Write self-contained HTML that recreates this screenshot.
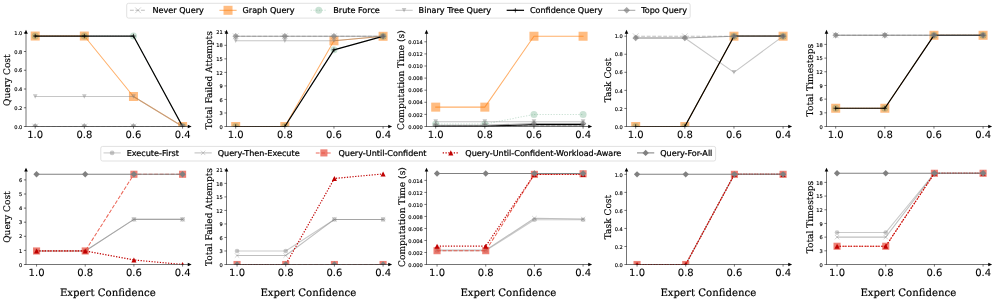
<!DOCTYPE html>
<html><head><meta charset="utf-8"><title>Figure</title>
<style>html,body{margin:0;padding:0;background:#fff}svg{display:block}text{text-rendering:geometricPrecision;stroke:#000;stroke-width:0.22px}text.yt{stroke-width:0.13px}text.sf{stroke-width:0.15px}text.xt{stroke-width:0.08px}text.xl{stroke-width:0.17px}</style></head>
<body>
<svg width="996" height="302" viewBox="0 0 996 302">
<rect width="996" height="302" fill="#fff"/>
<clipPath id="c1"><rect x="26.00" y="28.80" width="166.70" height="97.70"/></clipPath>
<g clip-path="url(#c1)">
<polyline points="35.20,126.50 84.33,126.50 133.46,126.50 182.59,126.50" fill="none" stroke="#808080" stroke-opacity="0.5" stroke-width="1.04" stroke-linejoin="round" stroke-dasharray="3.85 1.66"/>
<path d="M32.35,123.65 L38.05,129.35 M32.35,129.35 L38.05,123.65" stroke="#808080" stroke-opacity="0.5" stroke-width="0.7" fill="none"/>
<path d="M81.48,123.65 L87.18,129.35 M81.48,129.35 L87.18,123.65" stroke="#808080" stroke-opacity="0.5" stroke-width="0.7" fill="none"/>
<path d="M130.61,123.65 L136.31,129.35 M130.61,129.35 L136.31,123.65" stroke="#808080" stroke-opacity="0.5" stroke-width="0.7" fill="none"/>
<path d="M179.74,123.65 L185.44,129.35 M179.74,129.35 L185.44,123.65" stroke="#808080" stroke-opacity="0.5" stroke-width="0.7" fill="none"/>
<polyline points="35.20,36.03 84.33,36.03 133.46,96.50 182.59,126.50" fill="none" stroke="#ff7f0e" stroke-opacity="0.62" stroke-width="1.04" stroke-linejoin="round" stroke-linecap="square"/>
<rect x="30.70" y="31.53" width="9.00" height="9.00" fill="#ff7f0e" fill-opacity="0.52"/>
<rect x="79.83" y="31.53" width="9.00" height="9.00" fill="#ff7f0e" fill-opacity="0.52"/>
<rect x="128.96" y="92.00" width="9.00" height="9.00" fill="#ff7f0e" fill-opacity="0.52"/>
<rect x="178.09" y="122.00" width="9.00" height="9.00" fill="#ff7f0e" fill-opacity="0.52"/>
<polyline points="35.20,36.03 84.33,36.03 133.46,36.03 182.59,126.50" fill="none" stroke="#2e8b57" stroke-opacity="0.25" stroke-width="1.04" stroke-linejoin="round" stroke-dasharray="1.25 1.51"/>
<circle cx="35.20" cy="36.03" r="3.50" fill="#2e8b57" fill-opacity="0.25"/>
<circle cx="84.33" cy="36.03" r="3.50" fill="#2e8b57" fill-opacity="0.25"/>
<circle cx="133.46" cy="36.03" r="3.50" fill="#2e8b57" fill-opacity="0.25"/>
<circle cx="182.59" cy="126.50" r="3.50" fill="#2e8b57" fill-opacity="0.25"/>
<polyline points="35.20,96.50 84.33,96.50 133.46,96.50 182.59,126.50" fill="none" stroke="#808080" stroke-opacity="0.45" stroke-width="1.04" stroke-linejoin="round" stroke-linecap="square"/>
<path d="M32.90,94.20 L37.50,94.20 L35.20,98.80 Z" fill="#808080" fill-opacity="0.45"/>
<path d="M82.03,94.20 L86.63,94.20 L84.33,98.80 Z" fill="#808080" fill-opacity="0.45"/>
<path d="M131.16,94.20 L135.76,94.20 L133.46,98.80 Z" fill="#808080" fill-opacity="0.45"/>
<path d="M180.29,124.20 L184.89,124.20 L182.59,128.80 Z" fill="#808080" fill-opacity="0.45"/>
<polyline points="35.20,36.03 84.33,36.03 133.46,36.03 182.59,126.50" fill="none" stroke="#000000" stroke-opacity="1.0" stroke-width="1.22" stroke-linejoin="round" stroke-linecap="square"/>
<path d="M33.00,36.03 L37.40,36.03 M35.20,33.83 L35.20,38.23" stroke="#000000" stroke-opacity="1.0" stroke-width="0.7" fill="none"/>
<path d="M82.13,36.03 L86.53,36.03 M84.33,33.83 L84.33,38.23" stroke="#000000" stroke-opacity="1.0" stroke-width="0.7" fill="none"/>
<path d="M131.26,36.03 L135.66,36.03 M133.46,33.83 L133.46,38.23" stroke="#000000" stroke-opacity="1.0" stroke-width="0.7" fill="none"/>
<path d="M180.39,126.50 L184.79,126.50 M182.59,124.30 L182.59,128.70" stroke="#000000" stroke-opacity="1.0" stroke-width="0.7" fill="none"/>
<polyline points="35.20,126.50 84.33,126.50 133.46,126.50 182.59,126.50" fill="none" stroke="#808080" stroke-opacity="0.7" stroke-width="1.04" stroke-linejoin="round" stroke-linecap="square"/>
<path d="M35.20,123.25 L38.45,126.50 L35.20,129.75 L31.95,126.50 Z" fill="#808080" fill-opacity="0.7"/>
<path d="M84.33,123.25 L87.58,126.50 L84.33,129.75 L81.08,126.50 Z" fill="#808080" fill-opacity="0.7"/>
<path d="M133.46,123.25 L136.71,126.50 L133.46,129.75 L130.21,126.50 Z" fill="#808080" fill-opacity="0.7"/>
<path d="M182.59,123.25 L185.84,126.50 L182.59,129.75 L179.34,126.50 Z" fill="#808080" fill-opacity="0.7"/>
</g>
<path d="M26.00,31.80 L26.00,126.50 M25.73,126.50 L189.70,126.50" stroke="#000" stroke-width="0.55" fill="none"/>
<path d="M191.65,126.50 L187.75,124.70 L187.75,128.30 Z" fill="#000"/>
<path d="M26.00,29.85 L24.20,33.75 L27.80,33.75 Z" fill="#000"/>
<path d="M35.20,126.50 L35.20,128.60" stroke="#000" stroke-width="0.55"/>
<text class="xt" x="35.20" y="138.10" font-family="'DejaVu Sans','Liberation Sans',sans-serif" font-size="10" text-anchor="middle">1.0</text>
<path d="M84.33,126.50 L84.33,128.60" stroke="#000" stroke-width="0.55"/>
<text class="xt" x="84.33" y="138.10" font-family="'DejaVu Sans','Liberation Sans',sans-serif" font-size="10" text-anchor="middle">0.8</text>
<path d="M133.46,126.50 L133.46,128.60" stroke="#000" stroke-width="0.55"/>
<text class="xt" x="133.46" y="138.10" font-family="'DejaVu Sans','Liberation Sans',sans-serif" font-size="10" text-anchor="middle">0.6</text>
<path d="M182.59,126.50 L182.59,128.60" stroke="#000" stroke-width="0.55"/>
<text class="xt" x="182.59" y="138.10" font-family="'DejaVu Sans','Liberation Sans',sans-serif" font-size="10" text-anchor="middle">0.4</text>
<path d="M26.00,126.50 L23.90,126.50" stroke="#000" stroke-width="0.55"/>
<text class="yt" x="22.30" y="128.65" font-family="'DejaVu Sans','Liberation Sans',sans-serif" font-size="5.1" text-anchor="end">0.0</text>
<path d="M26.00,107.75 L23.90,107.75" stroke="#000" stroke-width="0.55"/>
<text class="yt" x="22.30" y="109.90" font-family="'DejaVu Sans','Liberation Sans',sans-serif" font-size="5.1" text-anchor="end">0.2</text>
<path d="M26.00,89.00 L23.90,89.00" stroke="#000" stroke-width="0.55"/>
<text class="yt" x="22.30" y="91.15" font-family="'DejaVu Sans','Liberation Sans',sans-serif" font-size="5.1" text-anchor="end">0.4</text>
<path d="M26.00,70.25 L23.90,70.25" stroke="#000" stroke-width="0.55"/>
<text class="yt" x="22.30" y="72.40" font-family="'DejaVu Sans','Liberation Sans',sans-serif" font-size="5.1" text-anchor="end">0.6</text>
<path d="M26.00,51.50 L23.90,51.50" stroke="#000" stroke-width="0.55"/>
<text class="yt" x="22.30" y="53.65" font-family="'DejaVu Sans','Liberation Sans',sans-serif" font-size="5.1" text-anchor="end">0.8</text>
<path d="M26.00,32.75 L23.90,32.75" stroke="#000" stroke-width="0.55"/>
<text class="yt" x="22.30" y="34.90" font-family="'DejaVu Sans','Liberation Sans',sans-serif" font-size="5.1" text-anchor="end">1.0</text>
<text transform="translate(10.10,80.15) rotate(-90)" class="sf" font-family="'DejaVu Serif','Liberation Serif',serif" font-size="9.05" text-anchor="middle">Query Cost</text>
<clipPath id="c2"><rect x="226.50" y="28.80" width="166.70" height="97.70"/></clipPath>
<g clip-path="url(#c2)">
<polyline points="235.70,36.30 284.83,36.30 333.96,36.30 383.09,36.30" fill="none" stroke="#808080" stroke-opacity="0.5" stroke-width="1.04" stroke-linejoin="round" stroke-dasharray="3.85 1.66"/>
<path d="M232.85,33.45 L238.55,39.15 M232.85,39.15 L238.55,33.45" stroke="#808080" stroke-opacity="0.5" stroke-width="0.7" fill="none"/>
<path d="M281.98,33.45 L287.68,39.15 M281.98,39.15 L287.68,33.45" stroke="#808080" stroke-opacity="0.5" stroke-width="0.7" fill="none"/>
<path d="M331.11,33.45 L336.81,39.15 M331.11,39.15 L336.81,33.45" stroke="#808080" stroke-opacity="0.5" stroke-width="0.7" fill="none"/>
<path d="M380.24,33.45 L385.94,39.15 M380.24,39.15 L385.94,33.45" stroke="#808080" stroke-opacity="0.5" stroke-width="0.7" fill="none"/>
<polyline points="235.70,126.50 284.83,126.50 333.96,40.81 383.09,36.30" fill="none" stroke="#ff7f0e" stroke-opacity="0.62" stroke-width="1.04" stroke-linejoin="round" stroke-linecap="square"/>
<rect x="231.20" y="122.00" width="9.00" height="9.00" fill="#ff7f0e" fill-opacity="0.52"/>
<rect x="280.33" y="122.00" width="9.00" height="9.00" fill="#ff7f0e" fill-opacity="0.52"/>
<rect x="329.46" y="36.31" width="9.00" height="9.00" fill="#ff7f0e" fill-opacity="0.52"/>
<rect x="378.59" y="31.80" width="9.00" height="9.00" fill="#ff7f0e" fill-opacity="0.52"/>
<polyline points="235.70,126.50 284.83,126.50 333.96,49.83 383.09,36.30" fill="none" stroke="#2e8b57" stroke-opacity="0.25" stroke-width="1.04" stroke-linejoin="round" stroke-dasharray="1.25 1.51"/>
<circle cx="235.70" cy="126.50" r="3.50" fill="#2e8b57" fill-opacity="0.25"/>
<circle cx="284.83" cy="126.50" r="3.50" fill="#2e8b57" fill-opacity="0.25"/>
<circle cx="333.96" cy="49.83" r="3.50" fill="#2e8b57" fill-opacity="0.25"/>
<circle cx="383.09" cy="36.30" r="3.50" fill="#2e8b57" fill-opacity="0.25"/>
<polyline points="235.70,40.81 284.83,40.81 333.96,40.81 383.09,36.30" fill="none" stroke="#808080" stroke-opacity="0.45" stroke-width="1.04" stroke-linejoin="round" stroke-linecap="square"/>
<path d="M233.40,38.51 L238.00,38.51 L235.70,43.11 Z" fill="#808080" fill-opacity="0.45"/>
<path d="M282.53,38.51 L287.13,38.51 L284.83,43.11 Z" fill="#808080" fill-opacity="0.45"/>
<path d="M331.66,38.51 L336.26,38.51 L333.96,43.11 Z" fill="#808080" fill-opacity="0.45"/>
<path d="M380.79,34.00 L385.39,34.00 L383.09,38.60 Z" fill="#808080" fill-opacity="0.45"/>
<polyline points="235.70,126.50 284.83,126.50 333.96,49.83 383.09,36.30" fill="none" stroke="#000000" stroke-opacity="1.0" stroke-width="1.22" stroke-linejoin="round" stroke-linecap="square"/>
<path d="M233.50,126.50 L237.90,126.50 M235.70,124.30 L235.70,128.70" stroke="#000000" stroke-opacity="1.0" stroke-width="0.7" fill="none"/>
<path d="M282.63,126.50 L287.03,126.50 M284.83,124.30 L284.83,128.70" stroke="#000000" stroke-opacity="1.0" stroke-width="0.7" fill="none"/>
<path d="M331.76,49.83 L336.16,49.83 M333.96,47.63 L333.96,52.03" stroke="#000000" stroke-opacity="1.0" stroke-width="0.7" fill="none"/>
<path d="M380.89,36.30 L385.29,36.30 M383.09,34.10 L383.09,38.50" stroke="#000000" stroke-opacity="1.0" stroke-width="0.7" fill="none"/>
<polyline points="235.70,36.30 284.83,36.30 333.96,36.30 383.09,36.30" fill="none" stroke="#808080" stroke-opacity="0.7" stroke-width="1.04" stroke-linejoin="round" stroke-linecap="square"/>
<path d="M235.70,33.05 L238.95,36.30 L235.70,39.55 L232.45,36.30 Z" fill="#808080" fill-opacity="0.7"/>
<path d="M284.83,33.05 L288.08,36.30 L284.83,39.55 L281.58,36.30 Z" fill="#808080" fill-opacity="0.7"/>
<path d="M333.96,33.05 L337.21,36.30 L333.96,39.55 L330.71,36.30 Z" fill="#808080" fill-opacity="0.7"/>
<path d="M383.09,33.05 L386.34,36.30 L383.09,39.55 L379.84,36.30 Z" fill="#808080" fill-opacity="0.7"/>
</g>
<path d="M226.50,31.80 L226.50,126.50 M226.22,126.50 L390.20,126.50" stroke="#000" stroke-width="0.55" fill="none"/>
<path d="M392.15,126.50 L388.25,124.70 L388.25,128.30 Z" fill="#000"/>
<path d="M226.50,29.85 L224.70,33.75 L228.30,33.75 Z" fill="#000"/>
<path d="M235.70,126.50 L235.70,128.60" stroke="#000" stroke-width="0.55"/>
<text class="xt" x="235.70" y="138.10" font-family="'DejaVu Sans','Liberation Sans',sans-serif" font-size="10" text-anchor="middle">1.0</text>
<path d="M284.83,126.50 L284.83,128.60" stroke="#000" stroke-width="0.55"/>
<text class="xt" x="284.83" y="138.10" font-family="'DejaVu Sans','Liberation Sans',sans-serif" font-size="10" text-anchor="middle">0.8</text>
<path d="M333.96,126.50 L333.96,128.60" stroke="#000" stroke-width="0.55"/>
<text class="xt" x="333.96" y="138.10" font-family="'DejaVu Sans','Liberation Sans',sans-serif" font-size="10" text-anchor="middle">0.6</text>
<path d="M383.09,126.50 L383.09,128.60" stroke="#000" stroke-width="0.55"/>
<text class="xt" x="383.09" y="138.10" font-family="'DejaVu Sans','Liberation Sans',sans-serif" font-size="10" text-anchor="middle">0.4</text>
<path d="M226.50,126.50 L224.40,126.50" stroke="#000" stroke-width="0.55"/>
<text class="yt" x="222.80" y="128.65" font-family="'DejaVu Sans','Liberation Sans',sans-serif" font-size="5.1" text-anchor="end">0</text>
<path d="M226.50,112.97 L224.40,112.97" stroke="#000" stroke-width="0.55"/>
<text class="yt" x="222.80" y="115.12" font-family="'DejaVu Sans','Liberation Sans',sans-serif" font-size="5.1" text-anchor="end">3</text>
<path d="M226.50,99.44 L224.40,99.44" stroke="#000" stroke-width="0.55"/>
<text class="yt" x="222.80" y="101.59" font-family="'DejaVu Sans','Liberation Sans',sans-serif" font-size="5.1" text-anchor="end">6</text>
<path d="M226.50,85.91 L224.40,85.91" stroke="#000" stroke-width="0.55"/>
<text class="yt" x="222.80" y="88.06" font-family="'DejaVu Sans','Liberation Sans',sans-serif" font-size="5.1" text-anchor="end">9</text>
<path d="M226.50,72.38 L224.40,72.38" stroke="#000" stroke-width="0.55"/>
<text class="yt" x="222.80" y="74.53" font-family="'DejaVu Sans','Liberation Sans',sans-serif" font-size="5.1" text-anchor="end">12</text>
<path d="M226.50,58.85 L224.40,58.85" stroke="#000" stroke-width="0.55"/>
<text class="yt" x="222.80" y="61.00" font-family="'DejaVu Sans','Liberation Sans',sans-serif" font-size="5.1" text-anchor="end">15</text>
<path d="M226.50,45.32 L224.40,45.32" stroke="#000" stroke-width="0.55"/>
<text class="yt" x="222.80" y="47.47" font-family="'DejaVu Sans','Liberation Sans',sans-serif" font-size="5.1" text-anchor="end">18</text>
<path d="M226.50,31.79 L224.40,31.79" stroke="#000" stroke-width="0.55"/>
<text class="yt" x="222.80" y="33.94" font-family="'DejaVu Sans','Liberation Sans',sans-serif" font-size="5.1" text-anchor="end">21</text>
<text transform="translate(212.20,80.15) rotate(-90)" class="sf" font-family="'DejaVu Serif','Liberation Serif',serif" font-size="9.05" text-anchor="middle">Total Failed Attempts</text>
<clipPath id="c3"><rect x="426.50" y="28.80" width="166.70" height="97.70"/></clipPath>
<g clip-path="url(#c3)">
<polyline points="435.70,125.89 484.83,125.89 533.96,125.89 583.09,125.89" fill="none" stroke="#808080" stroke-opacity="0.5" stroke-width="1.04" stroke-linejoin="round" stroke-dasharray="3.85 1.66"/>
<path d="M432.85,123.05 L438.55,128.75 M432.85,128.75 L438.55,123.05" stroke="#808080" stroke-opacity="0.5" stroke-width="0.7" fill="none"/>
<path d="M481.98,123.05 L487.68,128.75 M481.98,128.75 L487.68,123.05" stroke="#808080" stroke-opacity="0.5" stroke-width="0.7" fill="none"/>
<path d="M531.11,123.05 L536.81,128.75 M531.11,128.75 L536.81,123.05" stroke="#808080" stroke-opacity="0.5" stroke-width="0.7" fill="none"/>
<path d="M580.24,123.05 L585.94,128.75 M580.24,128.75 L585.94,123.05" stroke="#808080" stroke-opacity="0.5" stroke-width="0.7" fill="none"/>
<polyline points="435.70,107.14 484.83,107.14 533.96,36.23 583.09,36.23" fill="none" stroke="#ff7f0e" stroke-opacity="0.62" stroke-width="1.04" stroke-linejoin="round" stroke-linecap="square"/>
<rect x="431.20" y="102.64" width="9.00" height="9.00" fill="#ff7f0e" fill-opacity="0.52"/>
<rect x="480.33" y="102.64" width="9.00" height="9.00" fill="#ff7f0e" fill-opacity="0.52"/>
<rect x="529.46" y="31.73" width="9.00" height="9.00" fill="#ff7f0e" fill-opacity="0.52"/>
<rect x="578.59" y="31.73" width="9.00" height="9.00" fill="#ff7f0e" fill-opacity="0.52"/>
<polyline points="435.70,124.08 484.83,124.08 533.96,114.40 583.09,114.40" fill="none" stroke="#2e8b57" stroke-opacity="0.25" stroke-width="1.04" stroke-linejoin="round" stroke-dasharray="1.25 1.51"/>
<circle cx="435.70" cy="124.08" r="3.50" fill="#2e8b57" fill-opacity="0.25"/>
<circle cx="484.83" cy="124.08" r="3.50" fill="#2e8b57" fill-opacity="0.25"/>
<circle cx="533.96" cy="114.40" r="3.50" fill="#2e8b57" fill-opacity="0.25"/>
<circle cx="583.09" cy="114.40" r="3.50" fill="#2e8b57" fill-opacity="0.25"/>
<polyline points="435.70,121.66 484.83,121.66 533.96,121.66 583.09,121.66" fill="none" stroke="#808080" stroke-opacity="0.45" stroke-width="1.04" stroke-linejoin="round" stroke-linecap="square"/>
<path d="M433.40,119.36 L438.00,119.36 L435.70,123.96 Z" fill="#808080" fill-opacity="0.45"/>
<path d="M482.53,119.36 L487.13,119.36 L484.83,123.96 Z" fill="#808080" fill-opacity="0.45"/>
<path d="M531.66,119.36 L536.26,119.36 L533.96,123.96 Z" fill="#808080" fill-opacity="0.45"/>
<path d="M580.79,119.36 L585.39,119.36 L583.09,123.96 Z" fill="#808080" fill-opacity="0.45"/>
<polyline points="435.70,126.20 484.83,126.20 533.96,124.69 583.09,124.69" fill="none" stroke="#000000" stroke-opacity="1.0" stroke-width="1.22" stroke-linejoin="round" stroke-linecap="square"/>
<path d="M433.50,126.20 L437.90,126.20 M435.70,124.00 L435.70,128.40" stroke="#000000" stroke-opacity="1.0" stroke-width="0.7" fill="none"/>
<path d="M482.63,126.20 L487.03,126.20 M484.83,124.00 L484.83,128.40" stroke="#000000" stroke-opacity="1.0" stroke-width="0.7" fill="none"/>
<path d="M531.76,124.69 L536.16,124.69 M533.96,122.48 L533.96,126.89" stroke="#000000" stroke-opacity="1.0" stroke-width="0.7" fill="none"/>
<path d="M580.89,124.69 L585.29,124.69 M583.09,122.48 L583.09,126.89" stroke="#000000" stroke-opacity="1.0" stroke-width="0.7" fill="none"/>
<polyline points="435.70,125.29 484.83,125.29 533.96,123.47 583.09,123.47" fill="none" stroke="#808080" stroke-opacity="0.7" stroke-width="1.04" stroke-linejoin="round" stroke-linecap="square"/>
<path d="M435.70,122.04 L438.95,125.29 L435.70,128.54 L432.45,125.29 Z" fill="#808080" fill-opacity="0.7"/>
<path d="M484.83,122.04 L488.08,125.29 L484.83,128.54 L481.58,125.29 Z" fill="#808080" fill-opacity="0.7"/>
<path d="M533.96,120.22 L537.21,123.47 L533.96,126.73 L530.71,123.47 Z" fill="#808080" fill-opacity="0.7"/>
<path d="M583.09,120.22 L586.34,123.47 L583.09,126.73 L579.84,123.47 Z" fill="#808080" fill-opacity="0.7"/>
</g>
<path d="M426.50,31.80 L426.50,126.50 M426.23,126.50 L590.20,126.50" stroke="#000" stroke-width="0.55" fill="none"/>
<path d="M592.15,126.50 L588.25,124.70 L588.25,128.30 Z" fill="#000"/>
<path d="M426.50,29.85 L424.70,33.75 L428.30,33.75 Z" fill="#000"/>
<path d="M435.70,126.50 L435.70,128.60" stroke="#000" stroke-width="0.55"/>
<text class="xt" x="435.70" y="138.10" font-family="'DejaVu Sans','Liberation Sans',sans-serif" font-size="10" text-anchor="middle">1.0</text>
<path d="M484.83,126.50 L484.83,128.60" stroke="#000" stroke-width="0.55"/>
<text class="xt" x="484.83" y="138.10" font-family="'DejaVu Sans','Liberation Sans',sans-serif" font-size="10" text-anchor="middle">0.8</text>
<path d="M533.96,126.50 L533.96,128.60" stroke="#000" stroke-width="0.55"/>
<text class="xt" x="533.96" y="138.10" font-family="'DejaVu Sans','Liberation Sans',sans-serif" font-size="10" text-anchor="middle">0.6</text>
<path d="M583.09,126.50 L583.09,128.60" stroke="#000" stroke-width="0.55"/>
<text class="xt" x="583.09" y="138.10" font-family="'DejaVu Sans','Liberation Sans',sans-serif" font-size="10" text-anchor="middle">0.4</text>
<path d="M426.50,126.50 L424.40,126.50" stroke="#000" stroke-width="0.55"/>
<text class="yt" x="422.80" y="128.65" font-family="'DejaVu Sans','Liberation Sans',sans-serif" font-size="5.1" text-anchor="end">0.000</text>
<path d="M426.50,114.40 L424.40,114.40" stroke="#000" stroke-width="0.55"/>
<text class="yt" x="422.80" y="116.55" font-family="'DejaVu Sans','Liberation Sans',sans-serif" font-size="5.1" text-anchor="end">0.002</text>
<path d="M426.50,102.30 L424.40,102.30" stroke="#000" stroke-width="0.55"/>
<text class="yt" x="422.80" y="104.45" font-family="'DejaVu Sans','Liberation Sans',sans-serif" font-size="5.1" text-anchor="end">0.004</text>
<path d="M426.50,90.20 L424.40,90.20" stroke="#000" stroke-width="0.55"/>
<text class="yt" x="422.80" y="92.35" font-family="'DejaVu Sans','Liberation Sans',sans-serif" font-size="5.1" text-anchor="end">0.006</text>
<path d="M426.50,78.10 L424.40,78.10" stroke="#000" stroke-width="0.55"/>
<text class="yt" x="422.80" y="80.25" font-family="'DejaVu Sans','Liberation Sans',sans-serif" font-size="5.1" text-anchor="end">0.008</text>
<path d="M426.50,66.00 L424.40,66.00" stroke="#000" stroke-width="0.55"/>
<text class="yt" x="422.80" y="68.15" font-family="'DejaVu Sans','Liberation Sans',sans-serif" font-size="5.1" text-anchor="end">0.010</text>
<path d="M426.50,53.90 L424.40,53.90" stroke="#000" stroke-width="0.55"/>
<text class="yt" x="422.80" y="56.05" font-family="'DejaVu Sans','Liberation Sans',sans-serif" font-size="5.1" text-anchor="end">0.012</text>
<path d="M426.50,41.80 L424.40,41.80" stroke="#000" stroke-width="0.55"/>
<text class="yt" x="422.80" y="43.95" font-family="'DejaVu Sans','Liberation Sans',sans-serif" font-size="5.1" text-anchor="end">0.014</text>
<text transform="translate(404.20,80.15) rotate(-90)" class="sf" font-family="'DejaVu Serif','Liberation Serif',serif" font-size="9.05" text-anchor="middle">Computation Time (s)</text>
<clipPath id="c4"><rect x="626.50" y="28.80" width="166.70" height="97.70"/></clipPath>
<g clip-path="url(#c4)">
<polyline points="635.70,36.20 684.83,36.20 733.96,36.20 783.09,36.20" fill="none" stroke="#808080" stroke-opacity="0.5" stroke-width="1.04" stroke-linejoin="round" stroke-dasharray="3.85 1.66"/>
<path d="M632.85,33.35 L638.55,39.05 M632.85,39.05 L638.55,33.35" stroke="#808080" stroke-opacity="0.5" stroke-width="0.7" fill="none"/>
<path d="M681.98,33.35 L687.68,39.05 M681.98,39.05 L687.68,33.35" stroke="#808080" stroke-opacity="0.5" stroke-width="0.7" fill="none"/>
<path d="M731.11,33.35 L736.81,39.05 M731.11,39.05 L736.81,33.35" stroke="#808080" stroke-opacity="0.5" stroke-width="0.7" fill="none"/>
<path d="M780.24,33.35 L785.94,39.05 M780.24,39.05 L785.94,33.35" stroke="#808080" stroke-opacity="0.5" stroke-width="0.7" fill="none"/>
<polyline points="635.70,126.50 684.83,126.50 733.96,36.20 783.09,36.20" fill="none" stroke="#ff7f0e" stroke-opacity="0.62" stroke-width="1.04" stroke-linejoin="round" stroke-linecap="square"/>
<rect x="631.20" y="122.00" width="9.00" height="9.00" fill="#ff7f0e" fill-opacity="0.52"/>
<rect x="680.33" y="122.00" width="9.00" height="9.00" fill="#ff7f0e" fill-opacity="0.52"/>
<rect x="729.46" y="31.70" width="9.00" height="9.00" fill="#ff7f0e" fill-opacity="0.52"/>
<rect x="778.59" y="31.70" width="9.00" height="9.00" fill="#ff7f0e" fill-opacity="0.52"/>
<polyline points="635.70,126.50 684.83,126.50 733.96,36.20 783.09,36.20" fill="none" stroke="#2e8b57" stroke-opacity="0.25" stroke-width="1.04" stroke-linejoin="round" stroke-dasharray="1.25 1.51"/>
<circle cx="635.70" cy="126.50" r="3.50" fill="#2e8b57" fill-opacity="0.25"/>
<circle cx="684.83" cy="126.50" r="3.50" fill="#2e8b57" fill-opacity="0.25"/>
<circle cx="733.96" cy="36.20" r="3.50" fill="#2e8b57" fill-opacity="0.25"/>
<circle cx="783.09" cy="36.20" r="3.50" fill="#2e8b57" fill-opacity="0.25"/>
<polyline points="635.70,38.01 684.83,38.01 733.96,72.32 783.09,36.20" fill="none" stroke="#808080" stroke-opacity="0.45" stroke-width="1.04" stroke-linejoin="round" stroke-linecap="square"/>
<path d="M633.40,35.71 L638.00,35.71 L635.70,40.31 Z" fill="#808080" fill-opacity="0.45"/>
<path d="M682.53,35.71 L687.13,35.71 L684.83,40.31 Z" fill="#808080" fill-opacity="0.45"/>
<path d="M731.66,70.02 L736.26,70.02 L733.96,74.62 Z" fill="#808080" fill-opacity="0.45"/>
<path d="M780.79,33.90 L785.39,33.90 L783.09,38.50 Z" fill="#808080" fill-opacity="0.45"/>
<polyline points="635.70,126.50 684.83,126.50 733.96,36.20 783.09,36.20" fill="none" stroke="#000000" stroke-opacity="1.0" stroke-width="1.22" stroke-linejoin="round" stroke-linecap="square"/>
<path d="M633.50,126.50 L637.90,126.50 M635.70,124.30 L635.70,128.70" stroke="#000000" stroke-opacity="1.0" stroke-width="0.7" fill="none"/>
<path d="M682.63,126.50 L687.03,126.50 M684.83,124.30 L684.83,128.70" stroke="#000000" stroke-opacity="1.0" stroke-width="0.7" fill="none"/>
<path d="M731.76,36.20 L736.16,36.20 M733.96,34.00 L733.96,38.40" stroke="#000000" stroke-opacity="1.0" stroke-width="0.7" fill="none"/>
<path d="M780.89,36.20 L785.29,36.20 M783.09,34.00 L783.09,38.40" stroke="#000000" stroke-opacity="1.0" stroke-width="0.7" fill="none"/>
<polyline points="635.70,38.01 684.83,38.01 733.96,36.20 783.09,36.20" fill="none" stroke="#808080" stroke-opacity="0.7" stroke-width="1.04" stroke-linejoin="round" stroke-linecap="square"/>
<path d="M635.70,34.75 L638.95,38.01 L635.70,41.26 L632.45,38.01 Z" fill="#808080" fill-opacity="0.7"/>
<path d="M684.83,34.75 L688.08,38.01 L684.83,41.26 L681.58,38.01 Z" fill="#808080" fill-opacity="0.7"/>
<path d="M733.96,32.95 L737.21,36.20 L733.96,39.45 L730.71,36.20 Z" fill="#808080" fill-opacity="0.7"/>
<path d="M783.09,32.95 L786.34,36.20 L783.09,39.45 L779.84,36.20 Z" fill="#808080" fill-opacity="0.7"/>
</g>
<path d="M626.50,31.80 L626.50,126.50 M626.23,126.50 L790.20,126.50" stroke="#000" stroke-width="0.55" fill="none"/>
<path d="M792.15,126.50 L788.25,124.70 L788.25,128.30 Z" fill="#000"/>
<path d="M626.50,29.85 L624.70,33.75 L628.30,33.75 Z" fill="#000"/>
<path d="M635.70,126.50 L635.70,128.60" stroke="#000" stroke-width="0.55"/>
<text class="xt" x="635.70" y="138.10" font-family="'DejaVu Sans','Liberation Sans',sans-serif" font-size="10" text-anchor="middle">1.0</text>
<path d="M684.83,126.50 L684.83,128.60" stroke="#000" stroke-width="0.55"/>
<text class="xt" x="684.83" y="138.10" font-family="'DejaVu Sans','Liberation Sans',sans-serif" font-size="10" text-anchor="middle">0.8</text>
<path d="M733.96,126.50 L733.96,128.60" stroke="#000" stroke-width="0.55"/>
<text class="xt" x="733.96" y="138.10" font-family="'DejaVu Sans','Liberation Sans',sans-serif" font-size="10" text-anchor="middle">0.6</text>
<path d="M783.09,126.50 L783.09,128.60" stroke="#000" stroke-width="0.55"/>
<text class="xt" x="783.09" y="138.10" font-family="'DejaVu Sans','Liberation Sans',sans-serif" font-size="10" text-anchor="middle">0.4</text>
<path d="M626.50,126.50 L624.40,126.50" stroke="#000" stroke-width="0.55"/>
<text class="yt" x="622.80" y="128.65" font-family="'DejaVu Sans','Liberation Sans',sans-serif" font-size="5.1" text-anchor="end">0.0</text>
<path d="M626.50,108.44 L624.40,108.44" stroke="#000" stroke-width="0.55"/>
<text class="yt" x="622.80" y="110.59" font-family="'DejaVu Sans','Liberation Sans',sans-serif" font-size="5.1" text-anchor="end">0.2</text>
<path d="M626.50,90.38 L624.40,90.38" stroke="#000" stroke-width="0.55"/>
<text class="yt" x="622.80" y="92.53" font-family="'DejaVu Sans','Liberation Sans',sans-serif" font-size="5.1" text-anchor="end">0.4</text>
<path d="M626.50,72.32 L624.40,72.32" stroke="#000" stroke-width="0.55"/>
<text class="yt" x="622.80" y="74.47" font-family="'DejaVu Sans','Liberation Sans',sans-serif" font-size="5.1" text-anchor="end">0.6</text>
<path d="M626.50,54.26 L624.40,54.26" stroke="#000" stroke-width="0.55"/>
<text class="yt" x="622.80" y="56.41" font-family="'DejaVu Sans','Liberation Sans',sans-serif" font-size="5.1" text-anchor="end">0.8</text>
<path d="M626.50,36.20 L624.40,36.20" stroke="#000" stroke-width="0.55"/>
<text class="yt" x="622.80" y="38.35" font-family="'DejaVu Sans','Liberation Sans',sans-serif" font-size="5.1" text-anchor="end">1.0</text>
<text transform="translate(611.10,80.15) rotate(-90)" class="sf" font-family="'DejaVu Serif','Liberation Serif',serif" font-size="9.05" text-anchor="middle">Task Cost</text>
<clipPath id="c5"><rect x="826.50" y="28.80" width="166.70" height="97.70"/></clipPath>
<g clip-path="url(#c5)">
<polyline points="835.70,35.30 884.83,35.30 933.96,35.30 983.09,35.30" fill="none" stroke="#808080" stroke-opacity="0.5" stroke-width="1.04" stroke-linejoin="round" stroke-dasharray="3.85 1.66"/>
<path d="M832.85,32.45 L838.55,38.15 M832.85,38.15 L838.55,32.45" stroke="#808080" stroke-opacity="0.5" stroke-width="0.7" fill="none"/>
<path d="M881.98,32.45 L887.68,38.15 M881.98,38.15 L887.68,32.45" stroke="#808080" stroke-opacity="0.5" stroke-width="0.7" fill="none"/>
<path d="M931.11,32.45 L936.81,38.15 M931.11,38.15 L936.81,32.45" stroke="#808080" stroke-opacity="0.5" stroke-width="0.7" fill="none"/>
<path d="M980.24,32.45 L985.94,38.15 M980.24,38.15 L985.94,32.45" stroke="#808080" stroke-opacity="0.5" stroke-width="0.7" fill="none"/>
<polyline points="835.70,108.26 884.83,108.26 933.96,35.30 983.09,35.30" fill="none" stroke="#ff7f0e" stroke-opacity="0.62" stroke-width="1.04" stroke-linejoin="round" stroke-linecap="square"/>
<rect x="831.20" y="103.76" width="9.00" height="9.00" fill="#ff7f0e" fill-opacity="0.52"/>
<rect x="880.33" y="103.76" width="9.00" height="9.00" fill="#ff7f0e" fill-opacity="0.52"/>
<rect x="929.46" y="30.80" width="9.00" height="9.00" fill="#ff7f0e" fill-opacity="0.52"/>
<rect x="978.59" y="30.80" width="9.00" height="9.00" fill="#ff7f0e" fill-opacity="0.52"/>
<polyline points="835.70,108.26 884.83,108.26 933.96,35.30 983.09,35.30" fill="none" stroke="#2e8b57" stroke-opacity="0.25" stroke-width="1.04" stroke-linejoin="round" stroke-dasharray="1.25 1.51"/>
<circle cx="835.70" cy="108.26" r="3.50" fill="#2e8b57" fill-opacity="0.25"/>
<circle cx="884.83" cy="108.26" r="3.50" fill="#2e8b57" fill-opacity="0.25"/>
<circle cx="933.96" cy="35.30" r="3.50" fill="#2e8b57" fill-opacity="0.25"/>
<circle cx="983.09" cy="35.30" r="3.50" fill="#2e8b57" fill-opacity="0.25"/>
<polyline points="835.70,35.30 884.83,35.30 933.96,35.30 983.09,35.30" fill="none" stroke="#808080" stroke-opacity="0.45" stroke-width="1.04" stroke-linejoin="round" stroke-linecap="square"/>
<path d="M833.40,33.00 L838.00,33.00 L835.70,37.60 Z" fill="#808080" fill-opacity="0.45"/>
<path d="M882.53,33.00 L887.13,33.00 L884.83,37.60 Z" fill="#808080" fill-opacity="0.45"/>
<path d="M931.66,33.00 L936.26,33.00 L933.96,37.60 Z" fill="#808080" fill-opacity="0.45"/>
<path d="M980.79,33.00 L985.39,33.00 L983.09,37.60 Z" fill="#808080" fill-opacity="0.45"/>
<polyline points="835.70,108.26 884.83,108.26 933.96,35.30 983.09,35.30" fill="none" stroke="#000000" stroke-opacity="1.0" stroke-width="1.22" stroke-linejoin="round" stroke-linecap="square"/>
<path d="M833.50,108.26 L837.90,108.26 M835.70,106.06 L835.70,110.46" stroke="#000000" stroke-opacity="1.0" stroke-width="0.7" fill="none"/>
<path d="M882.63,108.26 L887.03,108.26 M884.83,106.06 L884.83,110.46" stroke="#000000" stroke-opacity="1.0" stroke-width="0.7" fill="none"/>
<path d="M931.76,35.30 L936.16,35.30 M933.96,33.10 L933.96,37.50" stroke="#000000" stroke-opacity="1.0" stroke-width="0.7" fill="none"/>
<path d="M980.89,35.30 L985.29,35.30 M983.09,33.10 L983.09,37.50" stroke="#000000" stroke-opacity="1.0" stroke-width="0.7" fill="none"/>
<polyline points="835.70,35.30 884.83,35.30 933.96,35.30 983.09,35.30" fill="none" stroke="#808080" stroke-opacity="0.7" stroke-width="1.04" stroke-linejoin="round" stroke-linecap="square"/>
<path d="M835.70,32.05 L838.95,35.30 L835.70,38.55 L832.45,35.30 Z" fill="#808080" fill-opacity="0.7"/>
<path d="M884.83,32.05 L888.08,35.30 L884.83,38.55 L881.58,35.30 Z" fill="#808080" fill-opacity="0.7"/>
<path d="M933.96,32.05 L937.21,35.30 L933.96,38.55 L930.71,35.30 Z" fill="#808080" fill-opacity="0.7"/>
<path d="M983.09,32.05 L986.34,35.30 L983.09,38.55 L979.84,35.30 Z" fill="#808080" fill-opacity="0.7"/>
</g>
<path d="M826.50,31.80 L826.50,126.50 M826.23,126.50 L990.20,126.50" stroke="#000" stroke-width="0.55" fill="none"/>
<path d="M992.15,126.50 L988.25,124.70 L988.25,128.30 Z" fill="#000"/>
<path d="M826.50,29.85 L824.70,33.75 L828.30,33.75 Z" fill="#000"/>
<path d="M835.70,126.50 L835.70,128.60" stroke="#000" stroke-width="0.55"/>
<text class="xt" x="835.70" y="138.10" font-family="'DejaVu Sans','Liberation Sans',sans-serif" font-size="10" text-anchor="middle">1.0</text>
<path d="M884.83,126.50 L884.83,128.60" stroke="#000" stroke-width="0.55"/>
<text class="xt" x="884.83" y="138.10" font-family="'DejaVu Sans','Liberation Sans',sans-serif" font-size="10" text-anchor="middle">0.8</text>
<path d="M933.96,126.50 L933.96,128.60" stroke="#000" stroke-width="0.55"/>
<text class="xt" x="933.96" y="138.10" font-family="'DejaVu Sans','Liberation Sans',sans-serif" font-size="10" text-anchor="middle">0.6</text>
<path d="M983.09,126.50 L983.09,128.60" stroke="#000" stroke-width="0.55"/>
<text class="xt" x="983.09" y="138.10" font-family="'DejaVu Sans','Liberation Sans',sans-serif" font-size="10" text-anchor="middle">0.4</text>
<path d="M826.50,126.50 L824.40,126.50" stroke="#000" stroke-width="0.55"/>
<text class="yt" x="822.80" y="128.65" font-family="'DejaVu Sans','Liberation Sans',sans-serif" font-size="5.1" text-anchor="end">0</text>
<path d="M826.50,112.82 L824.40,112.82" stroke="#000" stroke-width="0.55"/>
<text class="yt" x="822.80" y="114.97" font-family="'DejaVu Sans','Liberation Sans',sans-serif" font-size="5.1" text-anchor="end">3</text>
<path d="M826.50,99.14 L824.40,99.14" stroke="#000" stroke-width="0.55"/>
<text class="yt" x="822.80" y="101.29" font-family="'DejaVu Sans','Liberation Sans',sans-serif" font-size="5.1" text-anchor="end">6</text>
<path d="M826.50,85.46 L824.40,85.46" stroke="#000" stroke-width="0.55"/>
<text class="yt" x="822.80" y="87.61" font-family="'DejaVu Sans','Liberation Sans',sans-serif" font-size="5.1" text-anchor="end">9</text>
<path d="M826.50,71.78 L824.40,71.78" stroke="#000" stroke-width="0.55"/>
<text class="yt" x="822.80" y="73.93" font-family="'DejaVu Sans','Liberation Sans',sans-serif" font-size="5.1" text-anchor="end">12</text>
<path d="M826.50,58.10 L824.40,58.10" stroke="#000" stroke-width="0.55"/>
<text class="yt" x="822.80" y="60.25" font-family="'DejaVu Sans','Liberation Sans',sans-serif" font-size="5.1" text-anchor="end">15</text>
<path d="M826.50,44.42 L824.40,44.42" stroke="#000" stroke-width="0.55"/>
<text class="yt" x="822.80" y="46.57" font-family="'DejaVu Sans','Liberation Sans',sans-serif" font-size="5.1" text-anchor="end">18</text>
<text transform="translate(812.60,80.15) rotate(-90)" class="sf" font-family="'DejaVu Serif','Liberation Serif',serif" font-size="9.05" text-anchor="middle">Total Timesteps</text>
<clipPath id="c6"><rect x="26.00" y="166.60" width="166.70" height="97.90"/></clipPath>
<g clip-path="url(#c6)">
<polyline points="36.55,250.96 85.23,250.96 133.91,219.38 182.59,219.38" fill="none" stroke="#808080" stroke-opacity="0.42" stroke-width="1.04" stroke-linejoin="round" stroke-linecap="square"/>
<circle cx="36.55" cy="250.96" r="2.35" fill="#808080" fill-opacity="0.42"/>
<circle cx="85.23" cy="250.96" r="2.35" fill="#808080" fill-opacity="0.42"/>
<circle cx="133.91" cy="219.38" r="2.35" fill="#808080" fill-opacity="0.42"/>
<circle cx="182.59" cy="219.38" r="2.35" fill="#808080" fill-opacity="0.42"/>
<polyline points="36.55,250.96 85.23,250.96 133.91,219.38 182.59,219.38" fill="none" stroke="#808080" stroke-opacity="0.5" stroke-width="1.04" stroke-linejoin="round" stroke-linecap="square"/>
<path d="M34.35,248.76 L38.75,253.16 M34.35,253.16 L38.75,248.76" stroke="#808080" stroke-opacity="0.5" stroke-width="0.7" fill="none"/>
<path d="M83.03,248.76 L87.43,253.16 M83.03,253.16 L87.43,248.76" stroke="#808080" stroke-opacity="0.5" stroke-width="0.7" fill="none"/>
<path d="M131.71,217.18 L136.11,221.58 M131.71,221.58 L136.11,217.18" stroke="#808080" stroke-opacity="0.5" stroke-width="0.7" fill="none"/>
<path d="M180.39,217.18 L184.79,221.58 M180.39,221.58 L184.79,217.18" stroke="#808080" stroke-opacity="0.5" stroke-width="0.7" fill="none"/>
<polyline points="36.55,250.96 85.23,250.96 133.91,174.26 182.59,174.26" fill="none" stroke="#e74c3c" stroke-opacity="0.85" stroke-width="1.04" stroke-linejoin="round" stroke-dasharray="3.85 1.66"/>
<rect x="33.00" y="247.41" width="7.10" height="7.10" fill="#e74c3c" fill-opacity="0.7"/>
<rect x="81.68" y="247.41" width="7.10" height="7.10" fill="#e74c3c" fill-opacity="0.7"/>
<rect x="130.36" y="170.71" width="7.10" height="7.10" fill="#e74c3c" fill-opacity="0.7"/>
<rect x="179.04" y="170.71" width="7.10" height="7.10" fill="#e74c3c" fill-opacity="0.7"/>
<polyline points="36.55,250.96 85.23,250.96 133.91,259.99 182.59,264.50" fill="none" stroke="#c00000" stroke-opacity="1.0" stroke-width="1.2" stroke-linejoin="round" stroke-dasharray="1.25 1.51"/>
<path d="M34.00,253.51 L39.10,253.51 L36.55,248.41 Z" fill="#c00000" fill-opacity="1.0"/>
<path d="M82.68,253.51 L87.78,253.51 L85.23,248.41 Z" fill="#c00000" fill-opacity="1.0"/>
<path d="M131.36,262.54 L136.46,262.54 L133.91,257.44 Z" fill="#c00000" fill-opacity="1.0"/>
<path d="M180.04,267.05 L185.14,267.05 L182.59,261.95 Z" fill="#c00000" fill-opacity="1.0"/>
<polyline points="36.55,174.26 85.23,174.26 133.91,174.26 182.59,174.26" fill="none" stroke="#808080" stroke-opacity="1.0" stroke-width="1.04" stroke-linejoin="round" stroke-linecap="square"/>
<path d="M36.55,171.08 L39.73,174.26 L36.55,177.44 L33.37,174.26 Z" fill="#808080" fill-opacity="1.0"/>
<path d="M85.23,171.08 L88.41,174.26 L85.23,177.44 L82.05,174.26 Z" fill="#808080" fill-opacity="1.0"/>
<path d="M133.91,171.08 L137.09,174.26 L133.91,177.44 L130.73,174.26 Z" fill="#808080" fill-opacity="1.0"/>
<path d="M182.59,171.08 L185.77,174.26 L182.59,177.44 L179.41,174.26 Z" fill="#808080" fill-opacity="1.0"/>
</g>
<path d="M26.00,169.60 L26.00,264.50 M25.73,264.50 L189.70,264.50" stroke="#000" stroke-width="0.55" fill="none"/>
<path d="M191.65,264.50 L187.75,262.70 L187.75,266.30 Z" fill="#000"/>
<path d="M26.00,167.65 L24.20,171.55 L27.80,171.55 Z" fill="#000"/>
<path d="M36.55,264.50 L36.55,266.60" stroke="#000" stroke-width="0.55"/>
<text class="xt" x="36.55" y="276.10" font-family="'DejaVu Sans','Liberation Sans',sans-serif" font-size="10" text-anchor="middle">1.0</text>
<path d="M85.23,264.50 L85.23,266.60" stroke="#000" stroke-width="0.55"/>
<text class="xt" x="85.23" y="276.10" font-family="'DejaVu Sans','Liberation Sans',sans-serif" font-size="10" text-anchor="middle">0.8</text>
<path d="M133.91,264.50 L133.91,266.60" stroke="#000" stroke-width="0.55"/>
<text class="xt" x="133.91" y="276.10" font-family="'DejaVu Sans','Liberation Sans',sans-serif" font-size="10" text-anchor="middle">0.6</text>
<path d="M182.59,264.50 L182.59,266.60" stroke="#000" stroke-width="0.55"/>
<text class="xt" x="182.59" y="276.10" font-family="'DejaVu Sans','Liberation Sans',sans-serif" font-size="10" text-anchor="middle">0.4</text>
<path d="M26.00,264.50 L23.90,264.50" stroke="#000" stroke-width="0.55"/>
<text class="yt" x="22.30" y="266.65" font-family="'DejaVu Sans','Liberation Sans',sans-serif" font-size="5.1" text-anchor="end">0</text>
<path d="M26.00,250.40 L23.90,250.40" stroke="#000" stroke-width="0.55"/>
<text class="yt" x="22.30" y="252.55" font-family="'DejaVu Sans','Liberation Sans',sans-serif" font-size="5.1" text-anchor="end">1</text>
<path d="M26.00,236.30 L23.90,236.30" stroke="#000" stroke-width="0.55"/>
<text class="yt" x="22.30" y="238.45" font-family="'DejaVu Sans','Liberation Sans',sans-serif" font-size="5.1" text-anchor="end">2</text>
<path d="M26.00,222.20 L23.90,222.20" stroke="#000" stroke-width="0.55"/>
<text class="yt" x="22.30" y="224.35" font-family="'DejaVu Sans','Liberation Sans',sans-serif" font-size="5.1" text-anchor="end">3</text>
<path d="M26.00,208.10 L23.90,208.10" stroke="#000" stroke-width="0.55"/>
<text class="yt" x="22.30" y="210.25" font-family="'DejaVu Sans','Liberation Sans',sans-serif" font-size="5.1" text-anchor="end">4</text>
<path d="M26.00,194.00 L23.90,194.00" stroke="#000" stroke-width="0.55"/>
<text class="yt" x="22.30" y="196.15" font-family="'DejaVu Sans','Liberation Sans',sans-serif" font-size="5.1" text-anchor="end">5</text>
<path d="M26.00,179.90 L23.90,179.90" stroke="#000" stroke-width="0.55"/>
<text class="yt" x="22.30" y="182.05" font-family="'DejaVu Sans','Liberation Sans',sans-serif" font-size="5.1" text-anchor="end">6</text>
<text transform="translate(10.10,217.05) rotate(-90)" class="sf" font-family="'DejaVu Serif','Liberation Serif',serif" font-size="9.05" text-anchor="middle">Query Cost</text>
<text x="107.85" y="296.15" class="xl" font-family="'DejaVu Serif','Liberation Serif',serif" font-size="10.18" text-anchor="middle">Expert Confidence</text>
<clipPath id="c7"><rect x="226.50" y="166.60" width="166.70" height="97.90"/></clipPath>
<g clip-path="url(#c7)">
<polyline points="237.05,250.98 285.73,250.98 334.41,219.44 383.09,219.44" fill="none" stroke="#808080" stroke-opacity="0.42" stroke-width="1.04" stroke-linejoin="round" stroke-linecap="square"/>
<circle cx="237.05" cy="250.98" r="2.35" fill="#808080" fill-opacity="0.42"/>
<circle cx="285.73" cy="250.98" r="2.35" fill="#808080" fill-opacity="0.42"/>
<circle cx="334.41" cy="219.44" r="2.35" fill="#808080" fill-opacity="0.42"/>
<circle cx="383.09" cy="219.44" r="2.35" fill="#808080" fill-opacity="0.42"/>
<polyline points="237.05,255.49 285.73,255.49 334.41,219.44 383.09,219.44" fill="none" stroke="#808080" stroke-opacity="0.5" stroke-width="1.04" stroke-linejoin="round" stroke-linecap="square"/>
<path d="M234.85,253.29 L239.25,257.69 M234.85,257.69 L239.25,253.29" stroke="#808080" stroke-opacity="0.5" stroke-width="0.7" fill="none"/>
<path d="M283.53,253.29 L287.93,257.69 M283.53,257.69 L287.93,253.29" stroke="#808080" stroke-opacity="0.5" stroke-width="0.7" fill="none"/>
<path d="M332.21,217.24 L336.61,221.64 M332.21,221.64 L336.61,217.24" stroke="#808080" stroke-opacity="0.5" stroke-width="0.7" fill="none"/>
<path d="M380.89,217.24 L385.29,221.64 M380.89,221.64 L385.29,217.24" stroke="#808080" stroke-opacity="0.5" stroke-width="0.7" fill="none"/>
<polyline points="237.05,264.50 285.73,264.50 334.41,264.50 383.09,264.50" fill="none" stroke="#e74c3c" stroke-opacity="0.85" stroke-width="1.04" stroke-linejoin="round" stroke-dasharray="3.85 1.66"/>
<rect x="233.50" y="260.95" width="7.10" height="7.10" fill="#e74c3c" fill-opacity="0.7"/>
<rect x="282.18" y="260.95" width="7.10" height="7.10" fill="#e74c3c" fill-opacity="0.7"/>
<rect x="330.86" y="260.95" width="7.10" height="7.10" fill="#e74c3c" fill-opacity="0.7"/>
<rect x="379.54" y="260.95" width="7.10" height="7.10" fill="#e74c3c" fill-opacity="0.7"/>
<polyline points="237.05,264.50 285.73,264.50 334.41,178.44 383.09,173.93" fill="none" stroke="#c00000" stroke-opacity="1.0" stroke-width="1.2" stroke-linejoin="round" stroke-dasharray="1.25 1.51"/>
<path d="M234.50,267.05 L239.60,267.05 L237.05,261.95 Z" fill="#c00000" fill-opacity="1.0"/>
<path d="M283.18,267.05 L288.28,267.05 L285.73,261.95 Z" fill="#c00000" fill-opacity="1.0"/>
<path d="M331.86,180.99 L336.96,180.99 L334.41,175.89 Z" fill="#c00000" fill-opacity="1.0"/>
<path d="M380.54,176.48 L385.64,176.48 L383.09,171.38 Z" fill="#c00000" fill-opacity="1.0"/>
<polyline points="237.05,264.50 285.73,264.50 334.41,264.50 383.09,264.50" fill="none" stroke="#808080" stroke-opacity="1.0" stroke-width="1.04" stroke-linejoin="round" stroke-linecap="square"/>
<path d="M237.05,261.32 L240.23,264.50 L237.05,267.68 L233.87,264.50 Z" fill="#808080" fill-opacity="1.0"/>
<path d="M285.73,261.32 L288.91,264.50 L285.73,267.68 L282.55,264.50 Z" fill="#808080" fill-opacity="1.0"/>
<path d="M334.41,261.32 L337.59,264.50 L334.41,267.68 L331.23,264.50 Z" fill="#808080" fill-opacity="1.0"/>
<path d="M383.09,261.32 L386.27,264.50 L383.09,267.68 L379.91,264.50 Z" fill="#808080" fill-opacity="1.0"/>
</g>
<path d="M226.50,169.60 L226.50,264.50 M226.22,264.50 L390.20,264.50" stroke="#000" stroke-width="0.55" fill="none"/>
<path d="M392.15,264.50 L388.25,262.70 L388.25,266.30 Z" fill="#000"/>
<path d="M226.50,167.65 L224.70,171.55 L228.30,171.55 Z" fill="#000"/>
<path d="M237.05,264.50 L237.05,266.60" stroke="#000" stroke-width="0.55"/>
<text class="xt" x="237.05" y="276.10" font-family="'DejaVu Sans','Liberation Sans',sans-serif" font-size="10" text-anchor="middle">1.0</text>
<path d="M285.73,264.50 L285.73,266.60" stroke="#000" stroke-width="0.55"/>
<text class="xt" x="285.73" y="276.10" font-family="'DejaVu Sans','Liberation Sans',sans-serif" font-size="10" text-anchor="middle">0.8</text>
<path d="M334.41,264.50 L334.41,266.60" stroke="#000" stroke-width="0.55"/>
<text class="xt" x="334.41" y="276.10" font-family="'DejaVu Sans','Liberation Sans',sans-serif" font-size="10" text-anchor="middle">0.6</text>
<path d="M383.09,264.50 L383.09,266.60" stroke="#000" stroke-width="0.55"/>
<text class="xt" x="383.09" y="276.10" font-family="'DejaVu Sans','Liberation Sans',sans-serif" font-size="10" text-anchor="middle">0.4</text>
<path d="M226.50,264.50 L224.40,264.50" stroke="#000" stroke-width="0.55"/>
<text class="yt" x="222.80" y="266.65" font-family="'DejaVu Sans','Liberation Sans',sans-serif" font-size="5.1" text-anchor="end">0</text>
<path d="M226.50,250.98 L224.40,250.98" stroke="#000" stroke-width="0.55"/>
<text class="yt" x="222.80" y="253.13" font-family="'DejaVu Sans','Liberation Sans',sans-serif" font-size="5.1" text-anchor="end">3</text>
<path d="M226.50,237.46 L224.40,237.46" stroke="#000" stroke-width="0.55"/>
<text class="yt" x="222.80" y="239.61" font-family="'DejaVu Sans','Liberation Sans',sans-serif" font-size="5.1" text-anchor="end">6</text>
<path d="M226.50,223.95 L224.40,223.95" stroke="#000" stroke-width="0.55"/>
<text class="yt" x="222.80" y="226.10" font-family="'DejaVu Sans','Liberation Sans',sans-serif" font-size="5.1" text-anchor="end">9</text>
<path d="M226.50,210.43 L224.40,210.43" stroke="#000" stroke-width="0.55"/>
<text class="yt" x="222.80" y="212.58" font-family="'DejaVu Sans','Liberation Sans',sans-serif" font-size="5.1" text-anchor="end">12</text>
<path d="M226.50,196.91 L224.40,196.91" stroke="#000" stroke-width="0.55"/>
<text class="yt" x="222.80" y="199.06" font-family="'DejaVu Sans','Liberation Sans',sans-serif" font-size="5.1" text-anchor="end">15</text>
<path d="M226.50,183.39 L224.40,183.39" stroke="#000" stroke-width="0.55"/>
<text class="yt" x="222.80" y="185.54" font-family="'DejaVu Sans','Liberation Sans',sans-serif" font-size="5.1" text-anchor="end">18</text>
<path d="M226.50,169.87 L224.40,169.87" stroke="#000" stroke-width="0.55"/>
<text class="yt" x="222.80" y="172.02" font-family="'DejaVu Sans','Liberation Sans',sans-serif" font-size="5.1" text-anchor="end">21</text>
<text transform="translate(212.20,217.05) rotate(-90)" class="sf" font-family="'DejaVu Serif','Liberation Serif',serif" font-size="9.05" text-anchor="middle">Total Failed Attempts</text>
<text x="308.35" y="296.15" class="xl" font-family="'DejaVu Serif','Liberation Serif',serif" font-size="10.18" text-anchor="middle">Expert Confidence</text>
<clipPath id="c8"><rect x="426.50" y="166.60" width="166.70" height="97.90"/></clipPath>
<g clip-path="url(#c8)">
<polyline points="437.05,250.68 485.73,250.68 534.41,219.75 583.09,219.75" fill="none" stroke="#808080" stroke-opacity="0.42" stroke-width="1.04" stroke-linejoin="round" stroke-linecap="square"/>
<circle cx="437.05" cy="250.68" r="2.35" fill="#808080" fill-opacity="0.42"/>
<circle cx="485.73" cy="250.68" r="2.35" fill="#808080" fill-opacity="0.42"/>
<circle cx="534.41" cy="219.75" r="2.35" fill="#808080" fill-opacity="0.42"/>
<circle cx="583.09" cy="219.75" r="2.35" fill="#808080" fill-opacity="0.42"/>
<polyline points="437.05,250.08 485.73,250.08 534.41,218.25 583.09,218.97" fill="none" stroke="#808080" stroke-opacity="0.5" stroke-width="1.04" stroke-linejoin="round" stroke-linecap="square"/>
<path d="M434.85,247.88 L439.25,252.28 M434.85,252.28 L439.25,247.88" stroke="#808080" stroke-opacity="0.5" stroke-width="0.7" fill="none"/>
<path d="M483.53,247.88 L487.93,252.28 M483.53,252.28 L487.93,247.88" stroke="#808080" stroke-opacity="0.5" stroke-width="0.7" fill="none"/>
<path d="M532.21,216.05 L536.61,220.45 M532.21,220.45 L536.61,216.05" stroke="#808080" stroke-opacity="0.5" stroke-width="0.7" fill="none"/>
<path d="M580.89,216.77 L585.29,221.17 M580.89,221.17 L585.29,216.77" stroke="#808080" stroke-opacity="0.5" stroke-width="0.7" fill="none"/>
<polyline points="437.05,250.68 485.73,250.68 534.41,174.40 583.09,173.79" fill="none" stroke="#e74c3c" stroke-opacity="0.85" stroke-width="1.04" stroke-linejoin="round" stroke-dasharray="3.85 1.66"/>
<rect x="433.50" y="247.13" width="7.10" height="7.10" fill="#e74c3c" fill-opacity="0.7"/>
<rect x="482.18" y="247.13" width="7.10" height="7.10" fill="#e74c3c" fill-opacity="0.7"/>
<rect x="530.86" y="170.84" width="7.10" height="7.10" fill="#e74c3c" fill-opacity="0.7"/>
<rect x="579.54" y="170.24" width="7.10" height="7.10" fill="#e74c3c" fill-opacity="0.7"/>
<polyline points="437.05,246.18 485.73,246.18 534.41,174.40 583.09,174.40" fill="none" stroke="#c00000" stroke-opacity="1.0" stroke-width="1.2" stroke-linejoin="round" stroke-dasharray="1.25 1.51"/>
<path d="M434.50,248.73 L439.60,248.73 L437.05,243.63 Z" fill="#c00000" fill-opacity="1.0"/>
<path d="M483.18,248.73 L488.28,248.73 L485.73,243.63 Z" fill="#c00000" fill-opacity="1.0"/>
<path d="M531.86,176.95 L536.96,176.95 L534.41,171.84 Z" fill="#c00000" fill-opacity="1.0"/>
<path d="M580.54,176.95 L585.64,176.95 L583.09,171.84 Z" fill="#c00000" fill-opacity="1.0"/>
<polyline points="437.05,173.49 485.73,173.49 534.41,173.49 583.09,173.49" fill="none" stroke="#808080" stroke-opacity="1.0" stroke-width="1.04" stroke-linejoin="round" stroke-linecap="square"/>
<path d="M437.05,170.31 L440.23,173.49 L437.05,176.68 L433.87,173.49 Z" fill="#808080" fill-opacity="1.0"/>
<path d="M485.73,170.31 L488.91,173.49 L485.73,176.68 L482.55,173.49 Z" fill="#808080" fill-opacity="1.0"/>
<path d="M534.41,170.31 L537.59,173.49 L534.41,176.68 L531.23,173.49 Z" fill="#808080" fill-opacity="1.0"/>
<path d="M583.09,170.31 L586.27,173.49 L583.09,176.68 L579.91,173.49 Z" fill="#808080" fill-opacity="1.0"/>
</g>
<path d="M426.50,169.60 L426.50,264.50 M426.23,264.50 L590.20,264.50" stroke="#000" stroke-width="0.55" fill="none"/>
<path d="M592.15,264.50 L588.25,262.70 L588.25,266.30 Z" fill="#000"/>
<path d="M426.50,167.65 L424.70,171.55 L428.30,171.55 Z" fill="#000"/>
<path d="M437.05,264.50 L437.05,266.60" stroke="#000" stroke-width="0.55"/>
<text class="xt" x="437.05" y="276.10" font-family="'DejaVu Sans','Liberation Sans',sans-serif" font-size="10" text-anchor="middle">1.0</text>
<path d="M485.73,264.50 L485.73,266.60" stroke="#000" stroke-width="0.55"/>
<text class="xt" x="485.73" y="276.10" font-family="'DejaVu Sans','Liberation Sans',sans-serif" font-size="10" text-anchor="middle">0.8</text>
<path d="M534.41,264.50 L534.41,266.60" stroke="#000" stroke-width="0.55"/>
<text class="xt" x="534.41" y="276.10" font-family="'DejaVu Sans','Liberation Sans',sans-serif" font-size="10" text-anchor="middle">0.6</text>
<path d="M583.09,264.50 L583.09,266.60" stroke="#000" stroke-width="0.55"/>
<text class="xt" x="583.09" y="276.10" font-family="'DejaVu Sans','Liberation Sans',sans-serif" font-size="10" text-anchor="middle">0.4</text>
<path d="M426.50,264.50 L424.40,264.50" stroke="#000" stroke-width="0.55"/>
<text class="yt" x="422.80" y="266.65" font-family="'DejaVu Sans','Liberation Sans',sans-serif" font-size="5.1" text-anchor="end">0.000</text>
<path d="M426.50,252.49 L424.40,252.49" stroke="#000" stroke-width="0.55"/>
<text class="yt" x="422.80" y="254.64" font-family="'DejaVu Sans','Liberation Sans',sans-serif" font-size="5.1" text-anchor="end">0.002</text>
<path d="M426.50,240.47 L424.40,240.47" stroke="#000" stroke-width="0.55"/>
<text class="yt" x="422.80" y="242.62" font-family="'DejaVu Sans','Liberation Sans',sans-serif" font-size="5.1" text-anchor="end">0.004</text>
<path d="M426.50,228.46 L424.40,228.46" stroke="#000" stroke-width="0.55"/>
<text class="yt" x="422.80" y="230.61" font-family="'DejaVu Sans','Liberation Sans',sans-serif" font-size="5.1" text-anchor="end">0.006</text>
<path d="M426.50,216.44 L424.40,216.44" stroke="#000" stroke-width="0.55"/>
<text class="yt" x="422.80" y="218.59" font-family="'DejaVu Sans','Liberation Sans',sans-serif" font-size="5.1" text-anchor="end">0.008</text>
<path d="M426.50,204.43 L424.40,204.43" stroke="#000" stroke-width="0.55"/>
<text class="yt" x="422.80" y="206.58" font-family="'DejaVu Sans','Liberation Sans',sans-serif" font-size="5.1" text-anchor="end">0.010</text>
<path d="M426.50,192.42 L424.40,192.42" stroke="#000" stroke-width="0.55"/>
<text class="yt" x="422.80" y="194.57" font-family="'DejaVu Sans','Liberation Sans',sans-serif" font-size="5.1" text-anchor="end">0.012</text>
<path d="M426.50,180.40 L424.40,180.40" stroke="#000" stroke-width="0.55"/>
<text class="yt" x="422.80" y="182.55" font-family="'DejaVu Sans','Liberation Sans',sans-serif" font-size="5.1" text-anchor="end">0.014</text>
<text transform="translate(404.70,217.05) rotate(-90)" class="sf" font-family="'DejaVu Serif','Liberation Serif',serif" font-size="9.05" text-anchor="middle">Computation Time (s)</text>
<text x="508.35" y="296.15" class="xl" font-family="'DejaVu Serif','Liberation Serif',serif" font-size="10.18" text-anchor="middle">Expert Confidence</text>
<clipPath id="c9"><rect x="626.50" y="166.60" width="166.70" height="97.90"/></clipPath>
<g clip-path="url(#c9)">
<polyline points="637.05,264.50 685.73,264.50 734.41,174.35 783.09,174.35" fill="none" stroke="#808080" stroke-opacity="0.42" stroke-width="1.04" stroke-linejoin="round" stroke-linecap="square"/>
<circle cx="637.05" cy="264.50" r="2.35" fill="#808080" fill-opacity="0.42"/>
<circle cx="685.73" cy="264.50" r="2.35" fill="#808080" fill-opacity="0.42"/>
<circle cx="734.41" cy="174.35" r="2.35" fill="#808080" fill-opacity="0.42"/>
<circle cx="783.09" cy="174.35" r="2.35" fill="#808080" fill-opacity="0.42"/>
<polyline points="637.05,264.50 685.73,264.50 734.41,174.35 783.09,174.35" fill="none" stroke="#808080" stroke-opacity="0.5" stroke-width="1.04" stroke-linejoin="round" stroke-linecap="square"/>
<path d="M634.85,262.30 L639.25,266.70 M634.85,266.70 L639.25,262.30" stroke="#808080" stroke-opacity="0.5" stroke-width="0.7" fill="none"/>
<path d="M683.53,262.30 L687.93,266.70 M683.53,266.70 L687.93,262.30" stroke="#808080" stroke-opacity="0.5" stroke-width="0.7" fill="none"/>
<path d="M732.21,172.15 L736.61,176.55 M732.21,176.55 L736.61,172.15" stroke="#808080" stroke-opacity="0.5" stroke-width="0.7" fill="none"/>
<path d="M780.89,172.15 L785.29,176.55 M780.89,176.55 L785.29,172.15" stroke="#808080" stroke-opacity="0.5" stroke-width="0.7" fill="none"/>
<polyline points="637.05,264.50 685.73,264.50 734.41,174.35 783.09,174.35" fill="none" stroke="#e74c3c" stroke-opacity="0.85" stroke-width="1.04" stroke-linejoin="round" stroke-dasharray="3.85 1.66"/>
<rect x="633.50" y="260.95" width="7.10" height="7.10" fill="#e74c3c" fill-opacity="0.7"/>
<rect x="682.18" y="260.95" width="7.10" height="7.10" fill="#e74c3c" fill-opacity="0.7"/>
<rect x="730.86" y="170.80" width="7.10" height="7.10" fill="#e74c3c" fill-opacity="0.7"/>
<rect x="779.54" y="170.80" width="7.10" height="7.10" fill="#e74c3c" fill-opacity="0.7"/>
<polyline points="637.05,264.50 685.73,264.50 734.41,174.35 783.09,174.35" fill="none" stroke="#c00000" stroke-opacity="1.0" stroke-width="1.2" stroke-linejoin="round" stroke-dasharray="1.25 1.51"/>
<path d="M634.50,267.05 L639.60,267.05 L637.05,261.95 Z" fill="#c00000" fill-opacity="1.0"/>
<path d="M683.18,267.05 L688.28,267.05 L685.73,261.95 Z" fill="#c00000" fill-opacity="1.0"/>
<path d="M731.86,176.90 L736.96,176.90 L734.41,171.80 Z" fill="#c00000" fill-opacity="1.0"/>
<path d="M780.54,176.90 L785.64,176.90 L783.09,171.80 Z" fill="#c00000" fill-opacity="1.0"/>
<polyline points="637.05,174.35 685.73,174.35 734.41,174.35 783.09,174.35" fill="none" stroke="#808080" stroke-opacity="1.0" stroke-width="1.04" stroke-linejoin="round" stroke-linecap="square"/>
<path d="M637.05,171.17 L640.23,174.35 L637.05,177.53 L633.87,174.35 Z" fill="#808080" fill-opacity="1.0"/>
<path d="M685.73,171.17 L688.91,174.35 L685.73,177.53 L682.55,174.35 Z" fill="#808080" fill-opacity="1.0"/>
<path d="M734.41,171.17 L737.59,174.35 L734.41,177.53 L731.23,174.35 Z" fill="#808080" fill-opacity="1.0"/>
<path d="M783.09,171.17 L786.27,174.35 L783.09,177.53 L779.91,174.35 Z" fill="#808080" fill-opacity="1.0"/>
</g>
<path d="M626.50,169.60 L626.50,264.50 M626.23,264.50 L790.20,264.50" stroke="#000" stroke-width="0.55" fill="none"/>
<path d="M792.15,264.50 L788.25,262.70 L788.25,266.30 Z" fill="#000"/>
<path d="M626.50,167.65 L624.70,171.55 L628.30,171.55 Z" fill="#000"/>
<path d="M637.05,264.50 L637.05,266.60" stroke="#000" stroke-width="0.55"/>
<text class="xt" x="637.05" y="276.10" font-family="'DejaVu Sans','Liberation Sans',sans-serif" font-size="10" text-anchor="middle">1.0</text>
<path d="M685.73,264.50 L685.73,266.60" stroke="#000" stroke-width="0.55"/>
<text class="xt" x="685.73" y="276.10" font-family="'DejaVu Sans','Liberation Sans',sans-serif" font-size="10" text-anchor="middle">0.8</text>
<path d="M734.41,264.50 L734.41,266.60" stroke="#000" stroke-width="0.55"/>
<text class="xt" x="734.41" y="276.10" font-family="'DejaVu Sans','Liberation Sans',sans-serif" font-size="10" text-anchor="middle">0.6</text>
<path d="M783.09,264.50 L783.09,266.60" stroke="#000" stroke-width="0.55"/>
<text class="xt" x="783.09" y="276.10" font-family="'DejaVu Sans','Liberation Sans',sans-serif" font-size="10" text-anchor="middle">0.4</text>
<path d="M626.50,264.50 L624.40,264.50" stroke="#000" stroke-width="0.55"/>
<text class="yt" x="622.80" y="266.65" font-family="'DejaVu Sans','Liberation Sans',sans-serif" font-size="5.1" text-anchor="end">0.0</text>
<path d="M626.50,246.47 L624.40,246.47" stroke="#000" stroke-width="0.55"/>
<text class="yt" x="622.80" y="248.62" font-family="'DejaVu Sans','Liberation Sans',sans-serif" font-size="5.1" text-anchor="end">0.2</text>
<path d="M626.50,228.44 L624.40,228.44" stroke="#000" stroke-width="0.55"/>
<text class="yt" x="622.80" y="230.59" font-family="'DejaVu Sans','Liberation Sans',sans-serif" font-size="5.1" text-anchor="end">0.4</text>
<path d="M626.50,210.41 L624.40,210.41" stroke="#000" stroke-width="0.55"/>
<text class="yt" x="622.80" y="212.56" font-family="'DejaVu Sans','Liberation Sans',sans-serif" font-size="5.1" text-anchor="end">0.6</text>
<path d="M626.50,192.38 L624.40,192.38" stroke="#000" stroke-width="0.55"/>
<text class="yt" x="622.80" y="194.53" font-family="'DejaVu Sans','Liberation Sans',sans-serif" font-size="5.1" text-anchor="end">0.8</text>
<path d="M626.50,174.35 L624.40,174.35" stroke="#000" stroke-width="0.55"/>
<text class="yt" x="622.80" y="176.50" font-family="'DejaVu Sans','Liberation Sans',sans-serif" font-size="5.1" text-anchor="end">1.0</text>
<text transform="translate(611.10,217.05) rotate(-90)" class="sf" font-family="'DejaVu Serif','Liberation Serif',serif" font-size="9.05" text-anchor="middle">Task Cost</text>
<text x="708.35" y="296.15" class="xl" font-family="'DejaVu Serif','Liberation Serif',serif" font-size="10.18" text-anchor="middle">Expert Confidence</text>
<clipPath id="c10"><rect x="826.50" y="166.60" width="166.70" height="97.90"/></clipPath>
<g clip-path="url(#c10)">
<polyline points="837.05,232.57 885.73,232.57 934.41,173.28 983.09,173.28" fill="none" stroke="#808080" stroke-opacity="0.42" stroke-width="1.04" stroke-linejoin="round" stroke-linecap="square"/>
<circle cx="837.05" cy="232.57" r="2.35" fill="#808080" fill-opacity="0.42"/>
<circle cx="885.73" cy="232.57" r="2.35" fill="#808080" fill-opacity="0.42"/>
<circle cx="934.41" cy="173.28" r="2.35" fill="#808080" fill-opacity="0.42"/>
<circle cx="983.09" cy="173.28" r="2.35" fill="#808080" fill-opacity="0.42"/>
<polyline points="837.05,237.13 885.73,237.13 934.41,173.28 983.09,173.28" fill="none" stroke="#808080" stroke-opacity="0.5" stroke-width="1.04" stroke-linejoin="round" stroke-linecap="square"/>
<path d="M834.85,234.93 L839.25,239.33 M834.85,239.33 L839.25,234.93" stroke="#808080" stroke-opacity="0.5" stroke-width="0.7" fill="none"/>
<path d="M883.53,234.93 L887.93,239.33 M883.53,239.33 L887.93,234.93" stroke="#808080" stroke-opacity="0.5" stroke-width="0.7" fill="none"/>
<path d="M932.21,171.08 L936.61,175.48 M932.21,175.48 L936.61,171.08" stroke="#808080" stroke-opacity="0.5" stroke-width="0.7" fill="none"/>
<path d="M980.89,171.08 L985.29,175.48 M980.89,175.48 L985.29,171.08" stroke="#808080" stroke-opacity="0.5" stroke-width="0.7" fill="none"/>
<polyline points="837.05,246.26 885.73,246.26 934.41,173.28 983.09,173.28" fill="none" stroke="#e74c3c" stroke-opacity="0.85" stroke-width="1.04" stroke-linejoin="round" stroke-dasharray="3.85 1.66"/>
<rect x="833.50" y="242.71" width="7.10" height="7.10" fill="#e74c3c" fill-opacity="0.7"/>
<rect x="882.18" y="242.71" width="7.10" height="7.10" fill="#e74c3c" fill-opacity="0.7"/>
<rect x="930.86" y="169.73" width="7.10" height="7.10" fill="#e74c3c" fill-opacity="0.7"/>
<rect x="979.54" y="169.73" width="7.10" height="7.10" fill="#e74c3c" fill-opacity="0.7"/>
<polyline points="837.05,246.26 885.73,246.26 934.41,173.28 983.09,173.28" fill="none" stroke="#c00000" stroke-opacity="1.0" stroke-width="1.2" stroke-linejoin="round" stroke-dasharray="1.25 1.51"/>
<path d="M834.50,248.81 L839.60,248.81 L837.05,243.71 Z" fill="#c00000" fill-opacity="1.0"/>
<path d="M883.18,248.81 L888.28,248.81 L885.73,243.71 Z" fill="#c00000" fill-opacity="1.0"/>
<path d="M931.86,175.83 L936.96,175.83 L934.41,170.73 Z" fill="#c00000" fill-opacity="1.0"/>
<path d="M980.54,175.83 L985.64,175.83 L983.09,170.73 Z" fill="#c00000" fill-opacity="1.0"/>
<polyline points="837.05,173.28 885.73,173.28 934.41,173.28 983.09,173.28" fill="none" stroke="#808080" stroke-opacity="1.0" stroke-width="1.04" stroke-linejoin="round" stroke-linecap="square"/>
<path d="M837.05,170.10 L840.23,173.28 L837.05,176.46 L833.87,173.28 Z" fill="#808080" fill-opacity="1.0"/>
<path d="M885.73,170.10 L888.91,173.28 L885.73,176.46 L882.55,173.28 Z" fill="#808080" fill-opacity="1.0"/>
<path d="M934.41,170.10 L937.59,173.28 L934.41,176.46 L931.23,173.28 Z" fill="#808080" fill-opacity="1.0"/>
<path d="M983.09,170.10 L986.27,173.28 L983.09,176.46 L979.91,173.28 Z" fill="#808080" fill-opacity="1.0"/>
</g>
<path d="M826.50,169.60 L826.50,264.50 M826.23,264.50 L990.20,264.50" stroke="#000" stroke-width="0.55" fill="none"/>
<path d="M992.15,264.50 L988.25,262.70 L988.25,266.30 Z" fill="#000"/>
<path d="M826.50,167.65 L824.70,171.55 L828.30,171.55 Z" fill="#000"/>
<path d="M837.05,264.50 L837.05,266.60" stroke="#000" stroke-width="0.55"/>
<text class="xt" x="837.05" y="276.10" font-family="'DejaVu Sans','Liberation Sans',sans-serif" font-size="10" text-anchor="middle">1.0</text>
<path d="M885.73,264.50 L885.73,266.60" stroke="#000" stroke-width="0.55"/>
<text class="xt" x="885.73" y="276.10" font-family="'DejaVu Sans','Liberation Sans',sans-serif" font-size="10" text-anchor="middle">0.8</text>
<path d="M934.41,264.50 L934.41,266.60" stroke="#000" stroke-width="0.55"/>
<text class="xt" x="934.41" y="276.10" font-family="'DejaVu Sans','Liberation Sans',sans-serif" font-size="10" text-anchor="middle">0.6</text>
<path d="M983.09,264.50 L983.09,266.60" stroke="#000" stroke-width="0.55"/>
<text class="xt" x="983.09" y="276.10" font-family="'DejaVu Sans','Liberation Sans',sans-serif" font-size="10" text-anchor="middle">0.4</text>
<path d="M826.50,264.50 L824.40,264.50" stroke="#000" stroke-width="0.55"/>
<text class="yt" x="822.80" y="266.65" font-family="'DejaVu Sans','Liberation Sans',sans-serif" font-size="5.1" text-anchor="end">0</text>
<path d="M826.50,250.82 L824.40,250.82" stroke="#000" stroke-width="0.55"/>
<text class="yt" x="822.80" y="252.97" font-family="'DejaVu Sans','Liberation Sans',sans-serif" font-size="5.1" text-anchor="end">3</text>
<path d="M826.50,237.13 L824.40,237.13" stroke="#000" stroke-width="0.55"/>
<text class="yt" x="822.80" y="239.28" font-family="'DejaVu Sans','Liberation Sans',sans-serif" font-size="5.1" text-anchor="end">6</text>
<path d="M826.50,223.45 L824.40,223.45" stroke="#000" stroke-width="0.55"/>
<text class="yt" x="822.80" y="225.60" font-family="'DejaVu Sans','Liberation Sans',sans-serif" font-size="5.1" text-anchor="end">9</text>
<path d="M826.50,209.77 L824.40,209.77" stroke="#000" stroke-width="0.55"/>
<text class="yt" x="822.80" y="211.92" font-family="'DejaVu Sans','Liberation Sans',sans-serif" font-size="5.1" text-anchor="end">12</text>
<path d="M826.50,196.09 L824.40,196.09" stroke="#000" stroke-width="0.55"/>
<text class="yt" x="822.80" y="198.24" font-family="'DejaVu Sans','Liberation Sans',sans-serif" font-size="5.1" text-anchor="end">15</text>
<path d="M826.50,182.40 L824.40,182.40" stroke="#000" stroke-width="0.55"/>
<text class="yt" x="822.80" y="184.55" font-family="'DejaVu Sans','Liberation Sans',sans-serif" font-size="5.1" text-anchor="end">18</text>
<text transform="translate(812.60,217.05) rotate(-90)" class="sf" font-family="'DejaVu Serif','Liberation Serif',serif" font-size="9.05" text-anchor="middle">Total Timesteps</text>
<text x="908.35" y="296.15" class="xl" font-family="'DejaVu Serif','Liberation Serif',serif" font-size="10.18" text-anchor="middle">Expert Confidence</text>
<rect x="126.70" y="3.30" width="563.47" height="14.80" rx="1.8" ry="1.8" fill="#fff" stroke="#d4d4d4" stroke-width="0.7"/>
<polyline points="129.93,10.30 146.09,10.30" fill="none" stroke="#808080" stroke-opacity="0.5" stroke-width="1.04" stroke-linejoin="round" stroke-dasharray="3.85 1.66"/>
<path d="M135.16,7.45 L140.86,13.15 M135.16,13.15 L140.86,7.45" stroke="#808080" stroke-opacity="0.5" stroke-width="0.7" fill="none"/>
<text x="152.56" y="12.80" font-family="'DejaVu Sans','Liberation Sans',sans-serif" font-size="8.08">Never Query</text>
<polyline points="219.94,10.30 236.10,10.30" fill="none" stroke="#ff7f0e" stroke-opacity="0.62" stroke-width="1.04" stroke-linejoin="round" stroke-linecap="square"/>
<rect x="223.52" y="5.80" width="9.00" height="9.00" fill="#ff7f0e" fill-opacity="0.52"/>
<text x="242.57" y="12.80" font-family="'DejaVu Sans','Liberation Sans',sans-serif" font-size="8.08">Graph Query</text>
<polyline points="310.65,10.30 326.81,10.30" fill="none" stroke="#2e8b57" stroke-opacity="0.25" stroke-width="1.04" stroke-linejoin="round" stroke-dasharray="1.25 1.51"/>
<circle cx="318.73" cy="10.30" r="3.50" fill="#2e8b57" fill-opacity="0.25"/>
<text x="333.28" y="12.80" font-family="'DejaVu Sans','Liberation Sans',sans-serif" font-size="8.08">Brute Force</text>
<polyline points="395.99,10.30 412.15,10.30" fill="none" stroke="#808080" stroke-opacity="0.45" stroke-width="1.04" stroke-linejoin="round" stroke-linecap="square"/>
<path d="M401.77,8.00 L406.37,8.00 L404.07,12.60 Z" fill="#808080" fill-opacity="0.45"/>
<text x="418.61" y="12.80" font-family="'DejaVu Sans','Liberation Sans',sans-serif" font-size="8.08">Binary Tree Query</text>
<polyline points="507.27,10.30 523.43,10.30" fill="none" stroke="#000000" stroke-opacity="1.0" stroke-width="1.22" stroke-linejoin="round" stroke-linecap="square"/>
<path d="M513.15,10.30 L517.55,10.30 M515.35,8.10 L515.35,12.50" stroke="#000000" stroke-opacity="1.0" stroke-width="0.7" fill="none"/>
<text x="529.89" y="12.80" font-family="'DejaVu Sans','Liberation Sans',sans-serif" font-size="8.08">Confidence Query</text>
<polyline points="618.61,10.30 634.77,10.30" fill="none" stroke="#808080" stroke-opacity="0.7" stroke-width="1.04" stroke-linejoin="round" stroke-linecap="square"/>
<path d="M626.69,7.05 L629.94,10.30 L626.69,13.55 L623.44,10.30 Z" fill="#808080" fill-opacity="0.7"/>
<text x="641.23" y="12.80" font-family="'DejaVu Sans','Liberation Sans',sans-serif" font-size="8.08">Topo Query</text>
<rect x="100.80" y="146.40" width="614.83" height="14.60" rx="1.8" ry="1.8" fill="#fff" stroke="#d4d4d4" stroke-width="0.7"/>
<polyline points="104.03,152.90 120.19,152.90" fill="none" stroke="#808080" stroke-opacity="0.42" stroke-width="1.04" stroke-linejoin="round" stroke-linecap="square"/>
<circle cx="112.11" cy="152.90" r="2.35" fill="#808080" fill-opacity="0.42"/>
<text x="126.66" y="155.85" font-family="'DejaVu Sans','Liberation Sans',sans-serif" font-size="8.08">Execute-First</text>
<polyline points="195.05,152.90 211.21,152.90" fill="none" stroke="#808080" stroke-opacity="0.5" stroke-width="1.04" stroke-linejoin="round" stroke-linecap="square"/>
<path d="M200.93,150.70 L205.33,155.10 M200.93,155.10 L205.33,150.70" stroke="#808080" stroke-opacity="0.5" stroke-width="0.7" fill="none"/>
<text x="217.68" y="155.85" font-family="'DejaVu Sans','Liberation Sans',sans-serif" font-size="8.08">Query-Then-Execute</text>
<polyline points="315.81,152.90 331.97,152.90" fill="none" stroke="#e74c3c" stroke-opacity="0.85" stroke-width="1.04" stroke-linejoin="round" stroke-dasharray="3.85 1.66"/>
<rect x="320.34" y="149.35" width="7.10" height="7.10" fill="#e74c3c" fill-opacity="0.7"/>
<text x="338.43" y="155.85" font-family="'DejaVu Sans','Liberation Sans',sans-serif" font-size="8.08">Query-Until-Confident</text>
<polyline points="442.72,152.90 458.88,152.90" fill="none" stroke="#c00000" stroke-opacity="1.0" stroke-width="1.2" stroke-linejoin="round" stroke-dasharray="1.25 1.51"/>
<path d="M448.25,155.45 L453.35,155.45 L450.80,150.35 Z" fill="#c00000" fill-opacity="1.0"/>
<text x="465.34" y="155.85" font-family="'DejaVu Sans','Liberation Sans',sans-serif" font-size="8.08">Query-Until-Confident-Workload-Aware</text>
<polyline points="637.56,152.90 653.72,152.90" fill="none" stroke="#808080" stroke-opacity="1.0" stroke-width="1.04" stroke-linejoin="round" stroke-linecap="square"/>
<path d="M645.64,149.72 L648.83,152.90 L645.64,156.08 L642.46,152.90 Z" fill="#808080" fill-opacity="1.0"/>
<text x="660.19" y="155.85" font-family="'DejaVu Sans','Liberation Sans',sans-serif" font-size="8.08">Query-For-All</text>
</svg>
</body></html>
